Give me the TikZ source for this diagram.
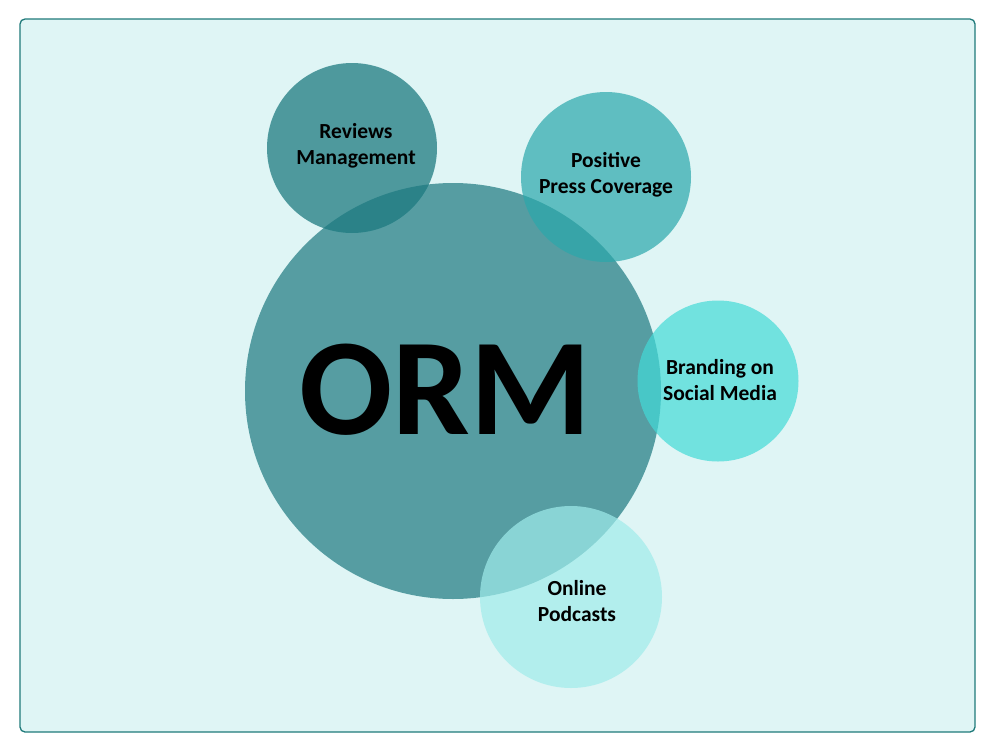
\documentclass[tikz,border=0pt]{standalone}
\usepackage{fontspec}
\setmainfont{Carlito}
\usepackage{xcolor}
\usepackage{tikz}
\definecolor{paneCyan}{RGB}{223,245,245}
\definecolor{paneEdge}{RGB}{31,122,122}
\definecolor{ormTeal}{RGB}{29,121,128}
\definecolor{reviewTeal}{RGB}{17,115,121}
\definecolor{pressTeal}{RGB}{42,168,171}
\definecolor{brandCyan}{RGB}{67,218,215}
\definecolor{podcastCyan}{RGB}{160,236,235}
\tikzset{
  bubble/.style={circle, fill opacity=0.7, inner sep=0pt},
  caption/.style={align=center, inner sep=0pt, font=\bfseries\fontsize{21.5}{26}\selectfont},
}

\begin{document}
\begin{tikzpicture}[x=1pt,y=-1pt]
    \useasboundingbox (0,0) rectangle (996,750);
    \draw[paneEdge, fill=paneCyan, line width=1.3pt, rounded corners=5pt] (20,19) rectangle (975,732);

    % circles, back to front
    \node[bubble, fill=reviewTeal, minimum size=170] (reviews) at (352,148) {};
    \node[bubble, fill=ormTeal, minimum size=416] (orm) at (453,391) {};
    \node[bubble, fill=pressTeal, minimum size=170] (press) at (606,177) {};
    \node[bubble, fill=brandCyan, minimum size=161] (brand) at (718,381) {};
    \node[bubble, fill=podcastCyan, minimum size=182] (podcasts) at (571,597) {};

    % texts
    \node[caption, font=\bfseries\fontsize{138}{138}\selectfont] (ormtext) at (445,390) {ORM};
    \node[caption] (reviewstext) at (356,146) {Reviews\\Management};
    \node[caption] (presstext) at (606,175) {Positive\\Press Coverage};
    \node[caption] (brandtext) at (720,380) {Branding on\\Social Media};
    \node[caption] (podcaststext) at (577,601) {Online\\Podcasts};

\end{tikzpicture}
\end{document}
